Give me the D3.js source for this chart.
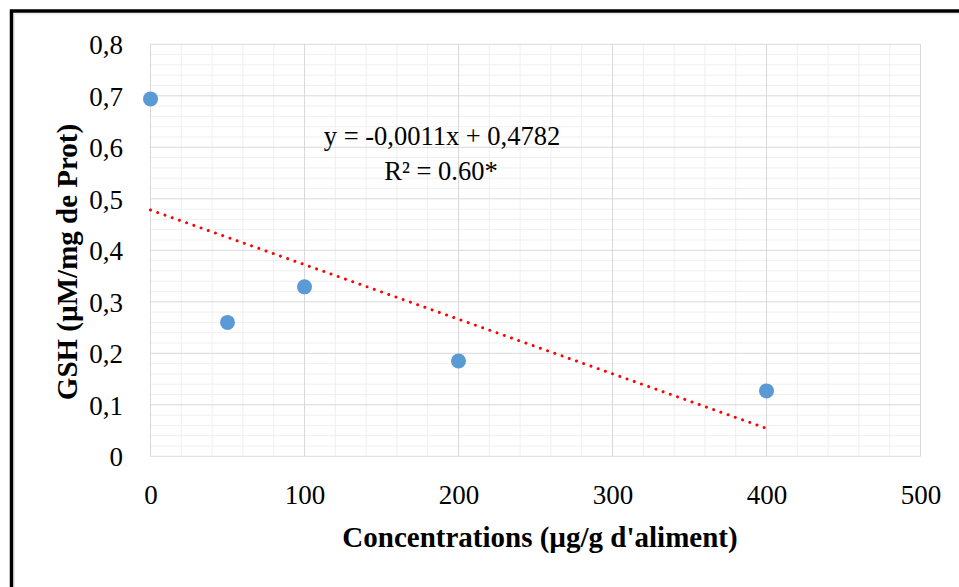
<!DOCTYPE html>
<html>
<head>
<meta charset="utf-8">
<script src="https://cdn.jsdelivr.net/npm/d3@7"></script>
<style>
  html, body { margin: 0; padding: 0; background: #fff; }
  svg { display: block; }
  text { font-family: "Liberation Serif", "Times New Roman", serif; fill: #000; }
</style>
</head>
<body>
<div id="chart"></div>
<script>
// GSH level against dietary concentration, with a linear trend line
const concentrations = [0, 50, 100, 200, 400];
const gshValues = [0.694, 0.260, 0.329, 0.185, 0.127];

const xTicks = [0, 100, 200, 300, 400, 500];
const yTicks = [0, 0.1, 0.2, 0.3, 0.4, 0.5, 0.6, 0.7, 0.8];

const trendSlope = -0.00106;
const trendIntercept = 0.4782;
const rSquaredLabel = "R² = 0.60*";

const xTitle = "Concentrations (µg/g d'aliment)";
const yTitle = "GSH (µM/mg de Prot)";

const W = 959, H = 587;
const plot = { left: 150.5, top: 44.3, right: 920.5, bottom: 456.3 };

const svg = d3.select("#chart").append("svg")
  .attr("width", W).attr("height", H);

svg.append("rect").attr("width", W).attr("height", H).attr("fill", "#fff");

// outer frame (left and top edges visible)
svg.append("rect")
  .attr("x", 11.5).attr("y", 11)
  .attr("width", W + 20).attr("height", H + 20)
  .attr("fill", "none").attr("stroke", "#000").attr("stroke-width", 3.5);
svg.append("path")
  .attr("d", `M14.5,${H} V14 H${W}`)
  .attr("fill", "none").attr("stroke", "#e6e6e6").attr("stroke-width", 1);

const x = d3.scaleLinear().domain([0, 500]).range([plot.left, plot.right]);
const y = d3.scaleLinear().domain([0, 0.8]).range([plot.bottom, plot.top]);

// decimal comma, plain hyphen for negatives
const fmtComma = v => String(v).replace(".", ",").replace("\u2212", "-");

// minor gridlines
const g = svg.append("g");
const minorX = d3.range(0, 501, 20).filter(v => v % 100 !== 0);
const minorY = d3.range(0, 41).map(i => i / 50).filter((v, i) => i % 5 !== 0);
g.selectAll(".mx").data(minorX).join("line")
  .attr("x1", d => x(d)).attr("x2", d => x(d))
  .attr("y1", plot.top).attr("y2", plot.bottom)
  .attr("stroke", "#efefef").attr("stroke-width", 1);
g.selectAll(".my").data(minorY).join("line")
  .attr("x1", plot.left).attr("x2", plot.right)
  .attr("y1", d => y(d)).attr("y2", d => y(d))
  .attr("stroke", "#efefef").attr("stroke-width", 1);

// major gridlines
g.selectAll(".Mx").data(xTicks).join("line")
  .attr("x1", d => x(d)).attr("x2", d => x(d))
  .attr("y1", plot.top).attr("y2", plot.bottom)
  .attr("stroke", "#d9d9d9").attr("stroke-width", 1);
g.selectAll(".My").data(yTicks).join("line")
  .attr("x1", plot.left).attr("x2", plot.right)
  .attr("y1", d => y(d)).attr("y2", d => y(d))
  .attr("stroke", "#d9d9d9").attr("stroke-width", 1);

// axes (labels only)
const xAxis = svg.append("g")
  .attr("transform", `translate(0,${plot.bottom})`)
  .call(d3.axisBottom(x).tickValues(xTicks).tickSize(0).tickPadding(0).tickFormat(d => String(d)));
xAxis.select(".domain").remove();
xAxis.selectAll("text")
  .attr("y", 47.5).attr("dy", null)
  .style("font-size", "27px").style("font-family", '"Liberation Serif", serif').attr("fill", "#000");

const yAxis = svg.append("g")
  .attr("transform", `translate(${plot.left},0)`)
  .call(d3.axisLeft(y).tickValues(yTicks).tickSize(0).tickPadding(0).tickFormat(fmtComma));
yAxis.select(".domain").remove();
yAxis.selectAll("text")
  .attr("x", -27.5).attr("dy", "0.35em")
  .style("font-size", "27px").style("font-family", '"Liberation Serif", serif').attr("fill", "#000");

// axis titles
svg.append("text")
  .attr("x", 540).attr("y", 547)
  .attr("text-anchor", "middle")
  .style("font-size", "29px").style("font-weight", "bold")
  .text(xTitle);
svg.append("text")
  .attr("transform", `translate(77,262) rotate(-90)`)
  .attr("text-anchor", "middle")
  .style("font-size", "29px").style("font-weight", "bold")
  .text(yTitle);

// trend line
const trendX = [0, 400];
svg.append("line")
  .attr("x1", x(trendX[0])).attr("y1", y(trendIntercept + trendSlope * trendX[0]))
  .attr("x2", x(trendX[1])).attr("y2", y(trendIntercept + trendSlope * trendX[1]))
  .attr("stroke", "#ff0000").attr("stroke-width", 3)
  .attr("stroke-linecap", "round")
  .attr("stroke-dasharray", "0.01 7.65");

// data points
svg.selectAll(".pt").data(concentrations).join("circle")
  .attr("cx", d => x(d))
  .attr("cy", (d, i) => y(gshValues[i]))
  .attr("r", 7.5)
  .attr("fill", "#5b9bd5");

// equation label
const eq = "y = " + fmtComma(trendSlope.toFixed(4)) + "x + " + fmtComma(trendIntercept.toFixed(4));
svg.append("text")
  .attr("x", 442).attr("y", 145)
  .attr("text-anchor", "middle")
  .style("font-size", "26.5px")
  .text(eq);
svg.append("text")
  .attr("x", 441).attr("y", 180)
  .attr("text-anchor", "middle")
  .style("font-size", "26.5px")
  .text(rSquaredLabel);
</script>
</body>
</html>
